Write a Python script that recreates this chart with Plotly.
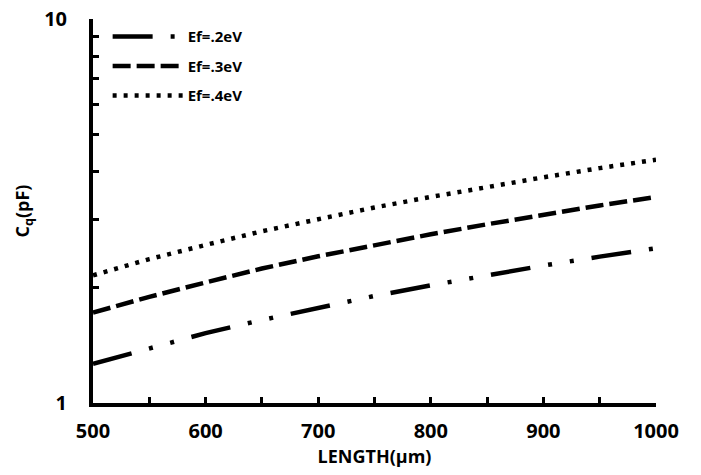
import plotly.graph_objects as go

length_um = [500, 550, 600, 650, 700, 750, 800, 850, 900, 950, 1000]
cq_ef02 = [1.265, 1.39, 1.52, 1.645, 1.77, 1.9, 2.025, 2.15, 2.28, 2.405, 2.53]
cq_ef03 = [1.72, 1.89, 2.06, 2.24, 2.41, 2.58, 2.75, 2.92, 3.10, 3.27, 3.44]
cq_ef04 = [2.15, 2.37, 2.58, 2.80, 3.01, 3.23, 3.44, 3.66, 3.87, 4.09, 4.30]
series_names = ["Ef=.2eV", "Ef=.3eV", "Ef=.4eV"]
y_tick_vals = [1, 10]
y_minor_vals = [2, 3, 4, 5, 6, 7, 8, 9]
x_tick_vals = [500, 600, 700, 800, 900, 1000]

font_family = "Open Sans"
fig = go.Figure()
dashes = ["40px,18px,4px,18px,4px,18px", "18px,6px", "4px,7px"]
for i, (name, ys, d) in enumerate(zip(series_names, [cq_ef02, cq_ef03, cq_ef04], dashes)):
    fig.add_trace(go.Scatter(
        x=length_um, y=ys, mode="lines", name=name, legendgroup=f"g{i}",
        line=dict(color="black", width=4.5, dash=d),
    ))

fig.update_layout(
    width=693, height=467,
    margin=dict(l=85, r=45, t=11, b=72, autoexpand=False),
    paper_bgcolor="white", plot_bgcolor="white",
    font=dict(family=font_family, color="black", size=18),
    showlegend=True,
    legend=dict(x=0.026, y=0.997, xanchor="left", yanchor="top",
                font=dict(family=font_family, size=15, color="black", weight="bold"),
                bgcolor="rgba(0,0,0,0)", itemwidth=70, tracegroupgap=7),
)
fig.update_xaxes(
    range=[500, 1000], tickvals=x_tick_vals, automargin=False,
    showline=True, linecolor="black", linewidth=4,
    ticks="inside", ticklen=6, tickwidth=3, tickcolor="black",
    minor=dict(dtick=50, ticks="inside", ticklen=6, tickwidth=3, tickcolor="black", showgrid=False),
    showgrid=False, zeroline=False, ticklabelstandoff=7, ticklabeloverflow="allow",
    tickfont=dict(family=font_family, size=20, weight="bold"),
    title=dict(text="LENGTH(μm)", font=dict(family=font_family, size=18, weight="bold"), standoff=0),
)
fig.update_yaxes(
    type="log", range=[0, 1], tickvals=y_tick_vals, automargin=False,
    showline=True, linecolor="black", linewidth=4,
    ticks="inside", ticklen=6, tickwidth=3, tickcolor="black",
    minor=dict(tickmode="array", tickvals=y_minor_vals, ticks="inside", ticklen=6,
               tickwidth=3, tickcolor="black", showgrid=False),
    showgrid=False, zeroline=False, ticklabelstandoff=18, ticklabeloverflow="allow",
    tickfont=dict(family=font_family, size=20, weight="bold"),
    title=dict(text="C<sub>q</sub>(pF)", font=dict(family=font_family, size=18, weight="bold"), standoff=11),
)
fig.write_html("out.html")
